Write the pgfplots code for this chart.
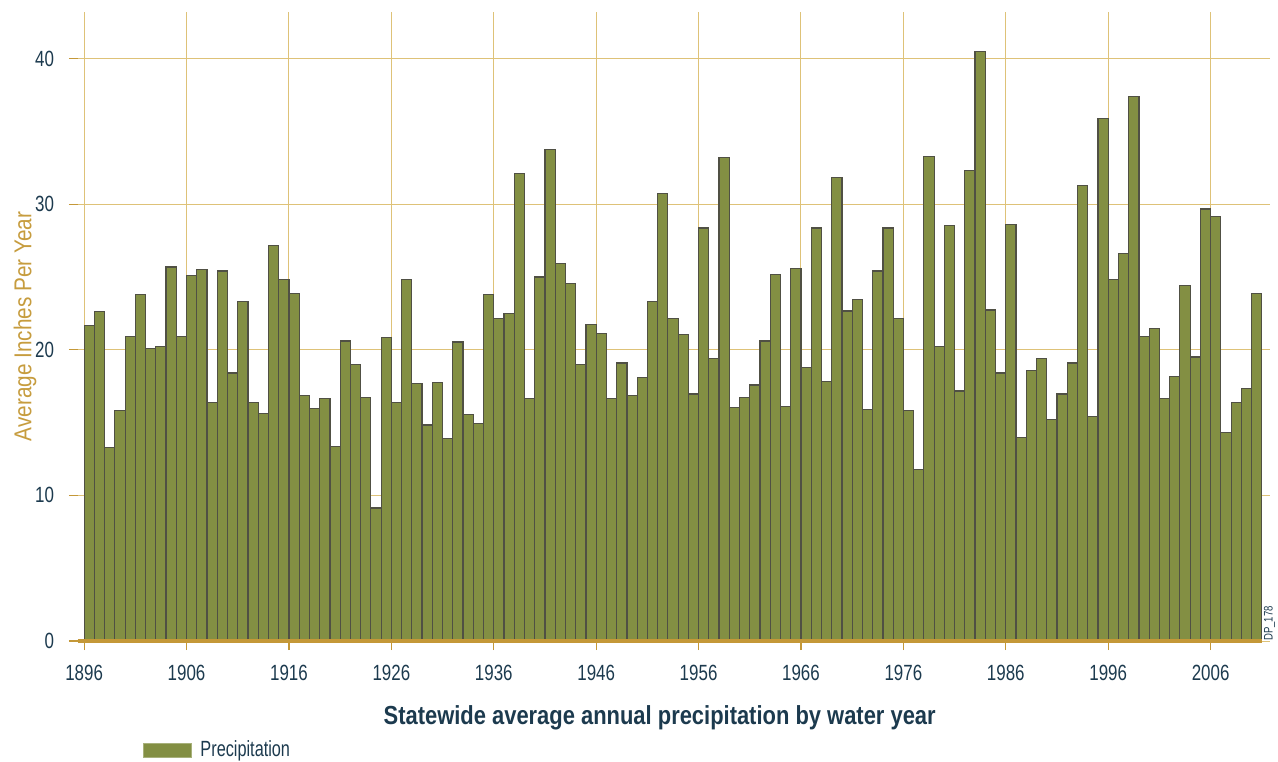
\documentclass[border=0pt]{standalone}
\usepackage{fontspec}
\usepackage{pgfplots}
\pgfplotsset{compat=1.18}
\usepackage{pgfplotstable}
\setmainfont{Liberation Sans}
\newfontfamily\cond[FakeStretch=0.77]{Liberation Sans}
\newfontfamily\condg[FakeStretch=0.74]{Liberation Sans}
\newfontfamily\condl[FakeStretch=0.85]{Liberation Sans}
\newfontfamily\condt[FakeStretch=0.84]{Liberation Sans}
\definecolor{barolive}{RGB}{131,143,67}
\definecolor{baredge}{RGB}{80,80,68}
\definecolor{gridgold}{RGB}{222,194,120}
\definecolor{axgold}{RGB}{196,152,56}
\definecolor{labgold}{RGB}{198,156,62}
\definecolor{navy}{RGB}{28,58,78}

\pgfplotstableread{
year val
1896 21.66
1897 22.64
1898 13.29
1899 15.84
1900 20.92
1901 23.78
1902 20.11
1903 20.22
1904 25.68
1905 20.92
1906 25.11
1907 25.52
1908 16.36
1909 25.41
1910 18.40
1911 23.34
1912 16.36
1913 15.65
1914 27.15
1915 24.84
1916 23.89
1917 16.85
1918 15.95
1919 16.66
1920 13.37
1921 20.60
1922 18.99
1923 16.74
1924 9.13
1925 20.87
1926 16.36
1927 24.84
1928 17.66
1929 14.84
1930 17.77
1931 13.89
1932 20.54
1933 15.54
1934 14.92
1935 23.78
1936 22.15
1937 22.47
1938 32.12
1939 16.66
1940 25.00
1941 33.75
1942 25.92
1943 24.57
1944 18.99
1945 21.74
1946 21.14
1947 16.66
1948 19.10
1949 16.85
1950 18.10
1951 23.29
1952 30.71
1953 22.15
1954 21.03
1955 16.96
1956 28.37
1957 19.40
1958 33.18
1959 16.03
1960 16.74
1961 17.58
1962 20.60
1963 25.19
1964 16.11
1965 25.60
1966 18.80
1967 28.37
1968 17.80
1969 31.82
1970 22.66
1971 23.48
1972 15.92
1973 25.41
1974 28.37
1975 22.15
1976 15.82
1977 11.77
1978 33.26
1979 20.24
1980 28.51
1981 17.17
1982 32.34
1983 40.49
1984 22.74
1985 18.40
1986 28.59
1987 13.99
1988 18.59
1989 19.40
1990 15.22
1991 16.96
1992 19.10
1993 31.30
1994 15.43
1995 35.90
1996 24.84
1997 26.63
1998 37.42
1999 20.92
2000 21.44
2001 16.66
2002 18.18
2003 24.40
2004 19.51
2005 29.67
2006 29.18
2007 14.32
2008 16.36
2009 17.36
2010 23.89
}\precip

\begin{document}
\begin{tikzpicture}
\useasboundingbox (0,0) rectangle (639pt,380.5pt);
\begin{axis}[
  at={(39pt,60pt)}, anchor=south west,
  scale only axis, width=596pt, height=314.5pt,
  xmin=1895.4, xmax=2011.8, ymin=0, ymax=43.2,
  clip=false,
  xtick={1896,1906,...,2006}, ytick={0,10,20,30,40},
  xtick pos=bottom, ytick pos=left,
  grid=major, major grid style={color=gridgold, line width=0.5pt},
  axis line style={draw=none},
  tick style={color=axgold, line width=0.6pt},
  tick align=outside, major tick length=4.5pt,
  /pgf/number format/assume math mode=true,
  /pgf/number format/1000 sep={},
  ticklabel style={font=\cond\fontsize{11}{13}\selectfont, color=navy},
  yticklabel style={xshift=-4pt},
  xticklabel style={yshift=-4pt},
  xlabel={Statewide average annual precipitation by water year},
  xlabel style={at={(axis description cs:0.488,-0.1224)}, anchor=center,
    font=\condt\bfseries\fontsize{13.05}{15}\selectfont, color=navy},
  ylabel={Average Inches Per Year},
  ylabel style={at={(axis description cs:-0.0445,0.5)}, anchor=center,
    font=\condl\fontsize{12.2}{14}\selectfont, color=labgold},
  ybar, bar width=1,
  legend style={draw=none, fill=none, at={(axis description cs:0.0545,-0.1733)},
    anchor=west, font=\condg\fontsize{11}{13}\selectfont, color=navy,
    inner sep=0pt},
  legend cell align=left,
  legend image code/.code={\draw[#1, draw=barolive!70!white, line width=0.5pt] (0pt,-3.5pt) rectangle (24pt,3.5pt); \path (26pt,0pt);},
]
\addplot[fill=barolive, draw=baredge, line width=0.6pt]
  table[x expr=\thisrow{year}+0.5, y=val] {\precip};
\addlegendentry{Precipitation}
\draw[line width=2.2pt, color=axgold] (axis cs:1895.4,0) -- (axis cs:2011,0);
\node[rotate=90, anchor=west, inner sep=0pt, font=\cond\fontsize{6.2}{7}\selectfont, color=navy]
  at (axis description cs:0.9995,0.0) {DP\_178};
\end{axis}
\end{tikzpicture}
\end{document}
